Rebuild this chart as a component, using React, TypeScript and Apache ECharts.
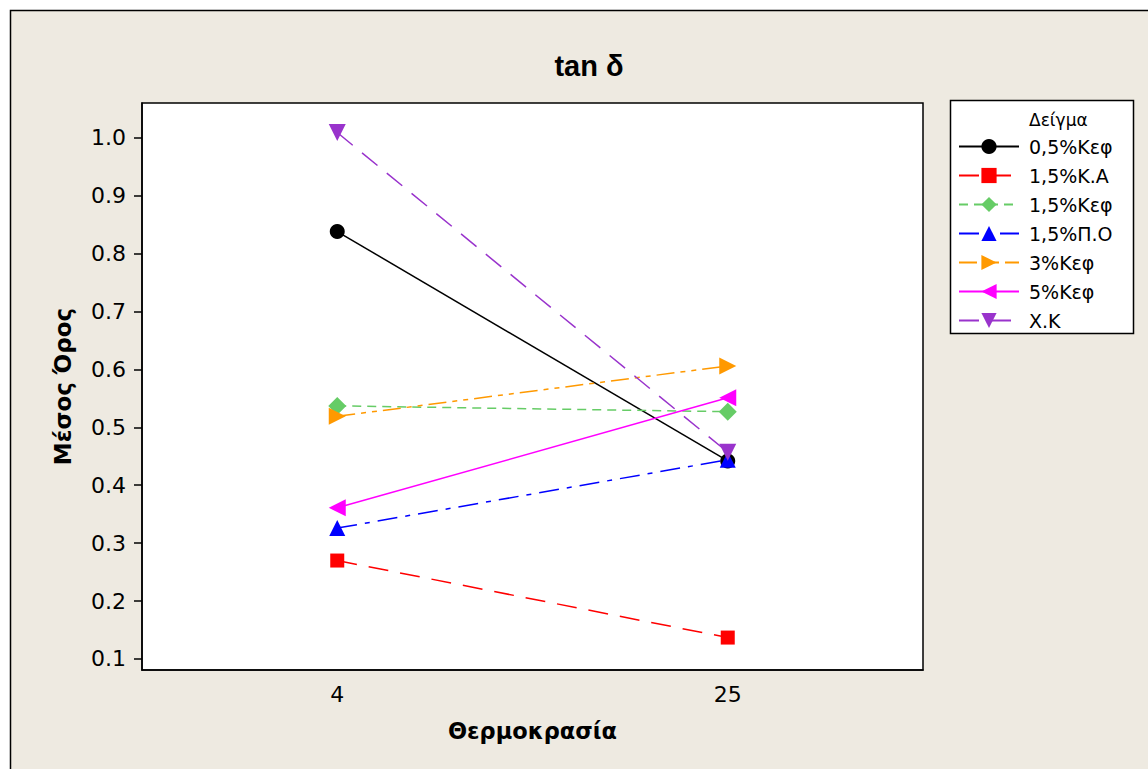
import React, { useEffect, useRef } from "react";
import * as echarts from "echarts";

const categories = ["4", "25"];
const yTicks = [0.1, 0.2, 0.3, 0.4, 0.5, 0.6, 0.7, 0.8, 0.9, 1.0];

const seriesNames = ["0,5%Κεφ", "1,5%Κ.Α", "1,5%Κεφ", "1,5%Π.Ο", "3%Κεφ", "5%Κεφ", "Χ.Κ"];
const s05Kef = [0.838, 0.442];
const s15KA = [0.270, 0.137];
const s15Kef = [0.537, 0.527];
const s15PO = [0.326, 0.444];
const s3Kef = [0.519, 0.606];
const s5Kef = [0.361, 0.551];
const sXK = [1.009, 0.457];

const FONT = "DejaVu Sans";

const triRight = "path://M0,0 L10,5 L0,10 Z";
const triLeft = "path://M10,0 L0,5 L10,10 Z";
const triDown = "path://M0,0 L10,0 L5,10 Z";
const triUp = "path://M5,0 L10,10 L0,10 Z";

export default function App() {
  const ref = useRef<HTMLDivElement>(null);
  useEffect(() => {
    if (!ref.current) return;
    const chart = echarts.init(ref.current, undefined, { renderer: "svg" });
    const mk = (
      name: string,
      data: number[],
      color: string,
      symbol: string,
      size: number,
      type: any
    ) => ({
      name,
      type: "line",
      data,
      symbol,
      symbolSize: size,
      lineStyle: { color, width: 1.5, type },
      itemStyle: { color },
      z: 3,
    });
    chart.setOption({
      animation: false,
      backgroundColor: "#ffffff",
      textStyle: { fontFamily: FONT },
      graphic: [
        {
          type: "rect",
          z: -10,
          silent: true,
          shape: { x: 10.5, y: 10.5, width: 1160, height: 780 },
          style: { fill: "#EEEAE1", stroke: "#000", lineWidth: 1.5 },
        },
        {
          type: "rect",
          z: 1,
          shape: { x: 950.5, y: 100.5, width: 183, height: 233 },
          style: { fill: "#ffffff", stroke: "#000", lineWidth: 1.5 },
        },
        {
          type: "text",
          z: 2,
          x: 1029,
          y: 120,
          style: {
            text: "Δείγμα",
            font: `17px ${FONT}`,
            fill: "#000",
            verticalAlign: "middle",
          },
        },
        {
          type: "text",
          z: 2,
          x: 589,
          y: 66,
          style: {
            text: "tan δ",
            font: `bold 29px "Liberation Sans"`,
            fill: "#000",
            align: "center",
            verticalAlign: "middle",
          },
        },
      ],
      grid: {
        left: 142,
        right: 225,
        top: 103,
        bottom: 99,
        show: true,
        backgroundColor: "#ffffff",
        borderColor: "#000",
        borderWidth: 1.5,
      },
      legend: {
        orient: "vertical",
        left: 953,
        top: 132,
        itemWidth: 60,
        itemHeight: 19,
        itemGap: 10,
        data: seriesNames,
        textStyle: { fontFamily: FONT, fontSize: 19, color: "#000", padding: [0, 0, 0, 5] },
        z: 3,
      },
      xAxis: {
        type: "category",
        data: categories,
        boundaryGap: true,
        axisLine: { lineStyle: { color: "#000", width: 1.5 } },
        axisTick: { alignWithLabel: true, length: 7, lineStyle: { color: "#000", width: 1.5 } },
        axisLabel: { color: "#000", fontSize: 22, fontFamily: FONT, margin: 13 },
        name: "Θερμοκρασία",
        nameLocation: "middle",
        nameGap: 49,
        nameTextStyle: { color: "#000", fontSize: 22.5, fontWeight: "bold", fontFamily: FONT },
        splitLine: { show: false },
      },
      yAxis: {
        type: "value",
        min: 0.081,
        max: 1.06,
        axisLine: { show: true, lineStyle: { color: "#000", width: 1.5 } },
        axisTick: { show: true, length: 8, customValues: yTicks, lineStyle: { color: "#000", width: 1.5 } },
        axisLabel: {
          color: "#000",
          fontSize: 22,
          fontFamily: FONT,
          margin: 16,
          customValues: yTicks,
          formatter: (v: number) => v.toFixed(1),
        },
        splitLine: { show: false },
        name: "Μέσος Όρος",
        nameLocation: "middle",
        nameGap: 68,
        nameTextStyle: { color: "#000", fontSize: 23, fontWeight: "bold", fontFamily: FONT },
      },
      series: [
        mk(seriesNames[0], s05Kef, "#000000", "circle", 15, "solid"),
        mk(seriesNames[1], s15KA, "#FF0000", "rect", 14, [20, 12]),
        mk(seriesNames[2], s15Kef, "#66CC66", "diamond", 18, [9, 6]),
        mk(seriesNames[3], s15PO, "#0000FF", triUp, 16, [20, 8, 5, 8]),
        mk(seriesNames[4], s3Kef, "#FF9900", triRight, 17, [18, 6, 5, 6, 5, 6]),
        mk(seriesNames[5], s5Kef, "#FF00FF", triLeft, 17, "solid"),
        mk(seriesNames[6], sXK, "#9933CC", triDown, 17, [20, 12]),
      ],
    });
    return () => chart.dispose();
  }, []);
  return (
    <div
      ref={ref}
      style={{ position: "absolute", left: 0, top: 0, width: 1148, height: 769 }}
    />
  );
}
